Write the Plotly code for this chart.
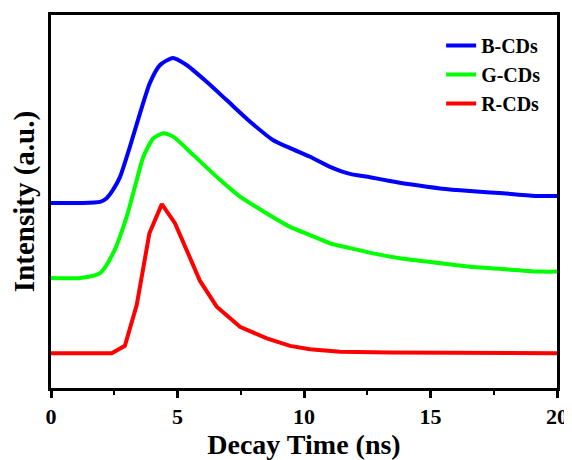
import plotly.graph_objects as go

# Data (Decay time in ns, intensity in arbitrary offset units)
b_time = [0, 1.15, 1.94, 2.20, 2.45, 2.73, 3.12, 3.52, 3.91, 4.31, 4.82, 5.36, 6.15, 6.94,
          7.87, 8.77, 9.45, 10.24, 11.03, 11.82, 12.61, 13.40, 14.19, 15.38, 16.56, 17.87, 19.21, 20.0]
b_int = [49.6, 49.6, 49.9, 50.9, 53.1, 56.6, 64.7, 73.7, 81.8, 86.6, 88.5, 86.6, 82.1, 77.2,
         71.4, 66.5, 64.3, 62.0, 59.3, 57.4, 56.5, 55.5, 54.6, 53.5, 52.8, 52.2, 51.5, 51.5]

g_time = [0, 1.15, 1.94, 2.46, 2.99, 3.39, 3.65, 4.04, 4.44, 4.83, 5.62, 6.68, 7.47, 8.53,
          9.45, 10.24, 11.03, 11.82, 12.73, 13.79, 15.10, 16.56, 18.02, 19.33, 20.0]
g_int = [29.5, 29.5, 30.8, 36.2, 45.9, 55.8, 62.0, 66.9, 68.3, 67.4, 62.5, 55.8, 51.3, 46.8,
         43.2, 41.0, 38.8, 37.5, 36.1, 34.8, 33.7, 32.5, 31.8, 31.2, 31.2]

r_time = [0, 2.40, 2.92, 3.39, 3.89, 4.38, 4.90, 5.43, 5.89, 6.55, 7.47, 8.53, 9.45, 10.24,
          11.42, 13.40, 20.0]
r_int = [9.3, 9.3, 11.3, 22.3, 41.5, 49.3, 44.2, 36.1, 28.7, 21.8, 16.4, 13.3, 11.3, 10.4,
         9.7, 9.5, 9.3]

series_names = ["B-CDs", "G-CDs", "R-CDs"]
x_ticks = [0, 5, 10, 15, 20]

FONT = "Liberation Serif"

fig = go.Figure()
fig.add_trace(go.Scatter(x=b_time, y=b_int, mode="lines", name=series_names[0],
                         line=dict(color="#0000FF", width=4, shape="spline", smoothing=0.6)))
fig.add_trace(go.Scatter(x=g_time, y=g_int, mode="lines", name=series_names[1],
                         line=dict(color="#00FF00", width=4, shape="spline", smoothing=0.6)))
fig.add_trace(go.Scatter(x=r_time, y=r_int, mode="lines", name=series_names[2],
                         line=dict(color="#FF0000", width=4)))

# page body has an 8px margin, so the figure is 8px smaller than the window
fig.update_layout(
    width=564, height=452,
    margin=dict(l=43, r=15, t=7, b=72),
    paper_bgcolor="white", plot_bgcolor="white",
    font=dict(family=FONT, color="black"),
    legend=dict(x=0.771, y=0.9705, xanchor="left", yanchor="top",
                font=dict(family=FONT, size=20, color="black", weight="bold"),
                bgcolor="rgba(0,0,0,0)", tracegroupgap=0),
    showlegend=True,
)

fig.update_xaxes(
    range=[0, 20], tickvals=x_ticks, ticktext=[str(v) for v in x_ticks],
    showline=True, linecolor="black", linewidth=3, mirror=True,
    ticks="outside", ticklen=7, tickwidth=3, tickcolor="black",
    minor=dict(dtick=2.5, ticks="outside", ticklen=4, tickwidth=2, tickcolor="black"),
    showgrid=False, zeroline=False, automargin=False,
    tickfont=dict(family=FONT, size=22, color="black", weight="bold"),
    title=dict(text="Decay Time (ns)", font=dict(family=FONT, size=28, color="black", weight="bold"),
               standoff=4),
)
fig.update_yaxes(
    range=[0, 100], showticklabels=False, ticks="",
    showline=True, linecolor="black", linewidth=3, mirror=True,
    showgrid=False, zeroline=False, automargin=False,
    title=dict(text="Intensity (a.u.)", font=dict(family=FONT, size=29, color="black", weight="bold"),
               standoff=9),
)

fig.write_html("out.html")
